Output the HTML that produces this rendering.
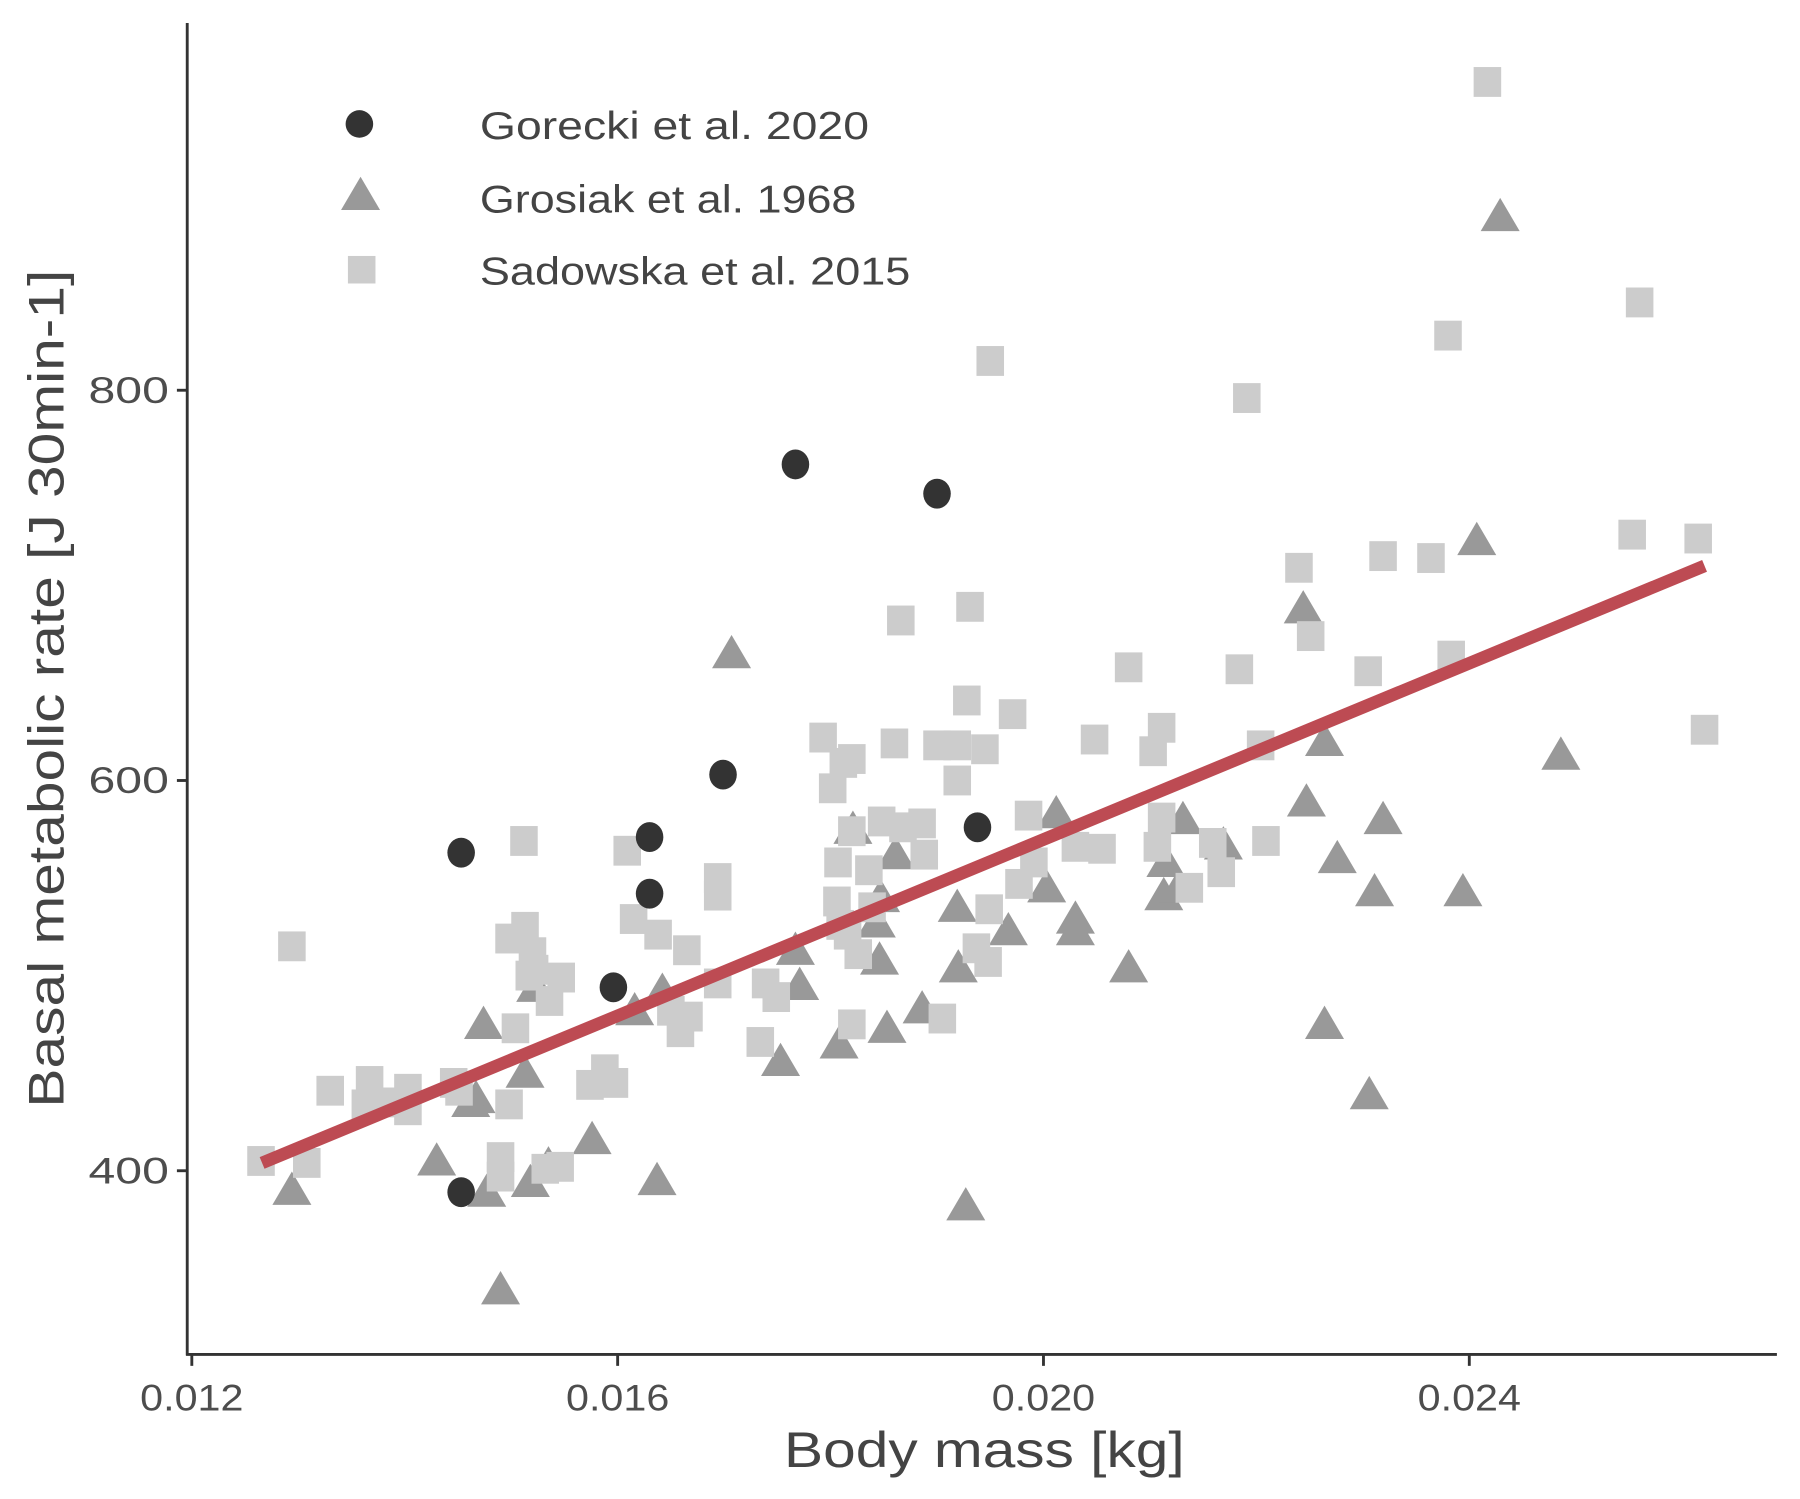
<!DOCTYPE html>
<html><head><meta charset="utf-8">
<style>
html,body{margin:0;padding:0;background:#fff;}
svg{display:block;}
text{font-family:"Liberation Sans",sans-serif;}
</style></head>
<body>
<svg id="chart" width="1800" height="1499" viewBox="0 0 1568 1306" xmlns="http://www.w3.org/2000/svg">
<g id="marks-tri"></g>
<g id="marks-sq"></g>
<g id="marks-circ"></g>
<g id="fit"></g>
<g id="axes">
  <line x1="163" y1="20" x2="163" y2="1181" stroke="#333" stroke-width="2.5"/>
  <line x1="162" y1="1180" x2="1548" y2="1180" stroke="#333" stroke-width="2.5"/>
</g>
<g id="ticks"></g>
<text x="683" y="1278" font-size="44" fill="#444" textLength="349" lengthAdjust="spacingAndGlyphs">Body mass [kg]</text>
<text transform="translate(55,965) rotate(-90)" font-size="44" fill="#444" textLength="730" lengthAdjust="spacingAndGlyphs">Basal metabolic rate [J 30min-1]</text>
<g>
  <circle cx="313" cy="108" r="12" fill="#333"/>
  <text x="418" y="121" font-size="34" fill="#444" textLength="339" lengthAdjust="spacingAndGlyphs">Gorecki et al. 2020</text>
  <polygon points="314,154 297,183 331,183" fill="#999"/>
  <text x="418" y="185" font-size="34" fill="#444" textLength="328" lengthAdjust="spacingAndGlyphs">Grosiak et al. 1968</text>
  <rect x="303" y="223" width="24" height="24" fill="#ccc"/>
  <text x="418" y="248" font-size="34" fill="#444" textLength="375" lengthAdjust="spacingAndGlyphs">Sadowska et al. 2015</text>
</g>
</svg>
<script>
const xTicks=[0.012,0.016,0.020,0.024];
const xTickLabels=["0.012","0.016","0.020","0.024"];
const yTicks=[400,600,800];
const yTickLabels=["400","600","800"];
const goreckiX=[0.01453,0.01453,0.01596,0.01630,0.01630,0.01699,0.01767,0.01900,0.01938];
const goreckiY=[563,389,494,571,542,603,762,747,576];
const grosiakX=[0.01294,0.01430,0.01474,0.01467,0.01462,0.01477,0.01490,0.01518,0.01513,0.01523,0.01535,0.01576,0.01616,0.01637,0.01642,0.01707,0.01753,0.01767,0.01771,0.01808,0.01821,0.01843,0.01847,0.01853,0.01846,0.01861,0.01886,0.01919,0.01920,0.01927,0.01967,0.02003,0.02012,0.02030,0.02030,0.02080,0.02113,0.02115,0.02127,0.02131,0.02169,0.02244,0.02247,0.02264,0.02264,0.02276,0.02306,0.02311,0.02319,0.02394,0.02407,0.02429,0.02486];
const grosiakY=[389,404,474,436,434,388,338,393,449,493,402,415,481,394,491,664,455,512,494,464,574,526,539,472,507,561,482,534,503,381,522,544,582,528,522,503,540,557,544,579,566,687,588,619,474,559,438,542,579,542,722,888,612];
const sadowskaX=[0.01294,0.01308,0.01265,0.01330,0.01367,0.01363,0.01387,0.01403,0.01403,0.01446,0.01451,0.01490,0.01490,0.01498,0.01504,0.01512,0.01498,0.01513,0.01520,0.01522,0.01517,0.01536,0.01547,0.01532,0.01546,0.01609,0.01615,0.01638,0.01665,0.01650,0.01659,0.01667,0.01574,0.01588,0.01597,0.01694,0.01694,0.01694,0.01734,0.01739,0.01749,0.01793,0.01802,0.01812,0.01820,0.01807,0.01820,0.01806,0.01809,0.01816,0.01826,0.01820,0.01836,0.01839,0.01848,0.01868,0.01886,0.01866,0.01860,0.01888,0.01905,0.01900,0.01919,0.01919,0.01928,0.01931,0.01937,0.01948,0.01949,0.01950,0.01945,0.01971,0.01977,0.01986,0.01991,0.02030,0.02048,0.02055,0.02080,0.02103,0.02111,0.02107,0.02111,0.02137,0.02159,0.02167,0.02184,0.02191,0.02204,0.02209,0.02240,0.02251,0.02305,0.02319,0.02364,0.02380,0.02383,0.02417,0.02553,0.02560,0.02615,0.02621];
const sadowskaY=[515,404,405,441,446,434,435,431,442,445,441,407,397,434,473,569,519,525,512,503,500,487,499,401,402,564,529,521,513,482,471,479,444,452,445,550,541,496,466,496,489,622,596,609,611,558,574,538,526,521,511,475,554,535,579,576,578,682,619,562,478,618,600,618,641,689,514,507,534,815,616,634,547,582,558,566,621,565,658,615,627,566,581,545,568,553,657,796,618,569,709,674,656,715,714,828,664,958,726,845,724,626];
const fitX=[0.01266,0.02621];
const fitY=[404,710];

const NS="http://www.w3.org/2000/svg";
function sx(v){return 167+(v-0.012)*92750;}
function sy(v){return 1020-(v-400)*1.7;}
function mk(tag,attrs,parent){const e=document.createElementNS(NS,tag);for(const k in attrs)e.setAttribute(k,attrs[k]);parent.appendChild(e);return e;}

const tk=document.getElementById('ticks');
xTicks.forEach((t,i)=>{
  const l=mk('line',{x1:sx(t),x2:sx(t),y1:1181,y2:1190,stroke:'#333','stroke-width':2.5},tk);
  
  
  const tx=mk('text',{x:sx(t)-45,y:1229,'font-size':32,fill:'#4d4d4d',textLength:90,lengthAdjust:'spacingAndGlyphs'},tk);
  tx.textContent=xTickLabels[i];
  
  
});
yTicks.forEach((t,i)=>{
  const l=mk('line',{x1:154,x2:163,y1:sy(t),y2:sy(t),stroke:'#333','stroke-width':2.5},tk);
  
  
  const tx=mk('text',{x:77,y:sy(t)+11,'font-size':32,fill:'#4d4d4d',textLength:70,lengthAdjust:'spacingAndGlyphs'},tk);
  tx.textContent=yTickLabels[i];
  
  
});

const gt=document.getElementById('marks-tri');
grosiakX.forEach((x,i)=>{
  const cx=sx(x),cy=sy(grosiakY[i]);
  const p=mk('polygon',{points:`${cx},${cy-18} ${cx-17},${cy+11} ${cx+17},${cy+11}`,fill:'#999'},gt);
  
  
});
const gs=document.getElementById('marks-sq');
sadowskaX.forEach((x,i)=>{
  const cx=sx(x),cy=sy(sadowskaY[i]);
  const r=mk('rect',{x:cx-12,y:cy-13,width:24,height:26,fill:'#ccc'},gs);
  
  
});
const gc=document.getElementById('marks-circ');
goreckiX.forEach((x,i)=>{
  const c=mk('ellipse',{cx:sx(x),cy:sy(goreckiY[i]),rx:12,ry:13,fill:'#333'},gc);
  
  
});
const gf=document.getElementById('fit');
const fl=mk('line',{x1:sx(fitX[0]),y1:sy(fitY[0]),x2:sx(fitX[1]),y2:sy(fitY[1]),stroke:'#bd4b53','stroke-width':11},gf);


</script>
</body></html>
